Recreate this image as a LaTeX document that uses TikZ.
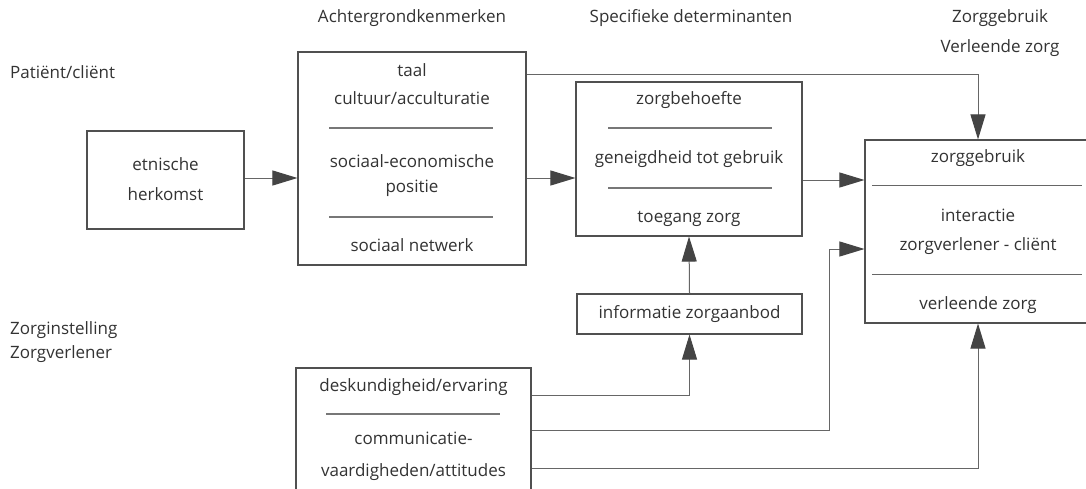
\documentclass[tikz,border=0pt]{standalone}
\usepackage{fontspec}
\setmainfont{Open Sans}
\usetikzlibrary{arrows.meta}
\definecolor{txt}{HTML}{333333}
\definecolor{ln}{HTML}{505050}
\definecolor{cn}{HTML}{666666}
\definecolor{sp}{HTML}{777777}
\definecolor{tipc}{HTML}{444444}
\tikzset{
  box/.style={draw=ln, line width=1.1pt, inner sep=0pt},
  lbl/.style={text=txt, inner sep=0pt, font=\fontsize{17}{20}\selectfont, text height=12.5pt, text depth=3.5pt},
  sepline/.style={draw=sp, line width=1.6pt},
  conn/.style={draw=cn, line width=1pt},
  arr/.style={conn, -{Triangle[length=25pt,width=15pt,fill=tipc,color=tipc]}}
}
\begin{document}
\begin{tikzpicture}[x=1pt,y=-1pt]
\clip (0,0) rectangle (1086,488);
\fill[white] (0,0) rectangle (1086,488);

% headers
\node[lbl] (h1) at (412,18) {Achtergrondkenmerken};
\node[lbl] (h2) at (691,18) {Specifieke determinanten};
\node[lbl] (h3) at (1000,18) {Zorggebruik};
\node[lbl] (h4) at (1000,48) {Verleende zorg};
\node[lbl, anchor=west] (s1) at (10,74) {Patiënt/cliënt};
\node[lbl, anchor=west] (s2) at (10,330) {Zorginstelling};
\node[lbl, anchor=west] (s3) at (10,354) {Zorgverlener};

% boxes
\node[box, minimum width=157pt, minimum height=98pt] (etn) at (165.5,180) {};
\node[box, minimum width=228pt, minimum height=213pt] (ach) at (412,158.5) {};
\node[box, minimum width=226pt, minimum height=154pt] (zb) at (689,159) {};
\node[box, minimum width=226pt, minimum height=183pt] (zg) at (978,231.5) {};
\node[box, minimum width=225pt, minimum height=40pt] (inf) at (689.5,314) {};
\node[box, minimum width=235pt, minimum height=130pt] (desk) at (413.5,433) {};

% etnische herkomst
\node[lbl] (e1) at (165.5,166) {etnische};
\node[lbl] (e2) at (165.5,196) {herkomst};

% achtergrondkenmerken
\node[lbl] (a1) at (412,72) {taal};
\node[lbl] (a2) at (412,100) {cultuur/acculturatie};
\draw[sepline] (329,128) -- (493,128);
\node[lbl] (a3) at (412,163) {sociaal-economische};
\node[lbl] (a4) at (412,188) {positie};
\draw[sepline] (329,217) -- (493,217);
\node[lbl] (a5) at (412,247) {sociaal netwerk};

% specifieke determinanten
\node[lbl] (b1) at (689,100) {zorgbehoefte};
\draw[sepline] (608,128) -- (772,128);
\node[lbl] (b2) at (689,159) {geneigdheid tot gebruik};
\draw[sepline] (608,188) -- (772,188);
\node[lbl] (b3) at (689,218) {toegang zorg};

% zorggebruik
\node[lbl] (z1) at (978,158) {zorggebruik};
\draw[conn] (872,185) -- (1082,185);
\node[lbl] (z2) at (978,217) {interactie};
\node[lbl] (z3) at (978,246) {zorgverlener - cliënt};
\draw[conn] (872,274) -- (1082,274);
\node[lbl] (z4) at (978,305) {verleende zorg};

% informatie
\node[lbl] (i1) at (689.5,314) {informatie zorgaanbod};

% deskundigheid
\node[lbl] (d1) at (413.5,387) {deskundigheid/ervaring};
\draw[sepline] (326,414) -- (500,414);
\node[lbl] (d2) at (413.5,440) {communicatie-};
\node[lbl] (d3) at (413.5,472) {vaardigheden/attitudes};

% connectors
\coordinate (c1) at (829,249);
\draw[arr] (etn.east |- 0,178) -- (ach.west |- 0,178);
\draw[arr] (ach.east |- 0,178) -- (zb.west |- 0,178);
\draw[arr] (zb.east |- 0,180) -- (zg.west |- 0,180);
\draw[arr] (ach.east |- 0,74) -| (zg.north);
\draw[arr] (inf.north) -- (zb.south);
\draw[arr] (desk.east |- 0,395) -| (inf.south);
\draw[arr] (desk.east |- 0,430) -| (c1) -- (c1 -| zg.west);
\draw[arr] (desk.east |- 0,468) -| (zg.south);
\end{tikzpicture}
\end{document}
